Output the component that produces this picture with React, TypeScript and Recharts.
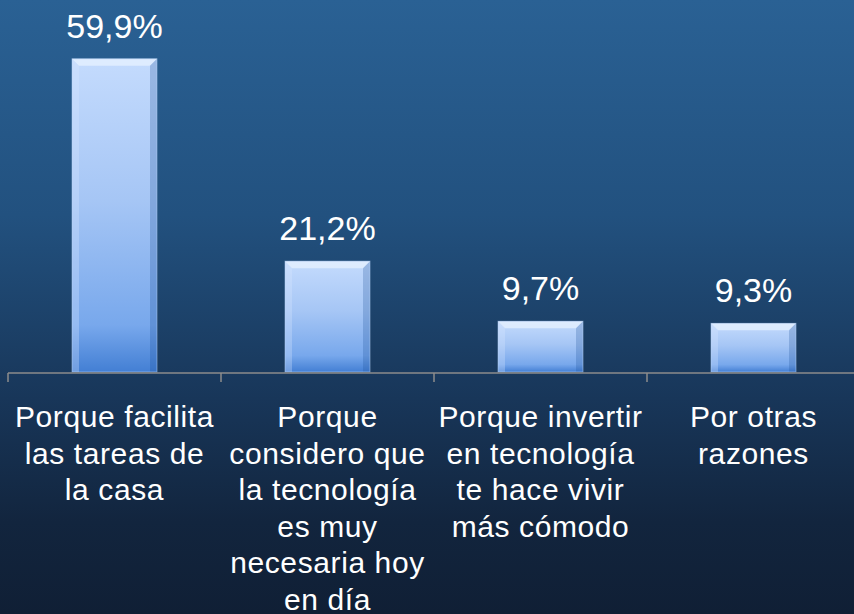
import React from "react";
import { BarChart, Bar, XAxis, YAxis, LabelList } from "recharts";

const categories = ["facilita", "considero", "invertir", "otras"];
const values = [59.9, 21.2, 9.7, 9.3];
const categoryLines = [
  ["Porque facilita", "las tareas de", "la casa"],
  ["Porque", "considero que", "la tecnología", "es muy", "necesaria hoy", "en día"],
  ["Porque invertir", "en tecnología", "te hace vivir", "más cómodo"],
  ["Por otras", "razones"],
];
// category boundaries on an index scale (categories sit at 0..3)
const boundaryTicks = [-0.5, 0.5, 1.5, 2.5, 3.5];

const data = categories.map((c, i) => ({ name: c, idx: i, value: values[i] }));

const FONT = '"Liberation Sans", Arial, sans-serif';

const CategoryTick = (props: any) => {
  const { x, y, index } = props;
  const lines = categoryLines[index] ?? [];
  return (
    <text
      x={x}
      y={y}
      textAnchor="middle"
      fill="#ffffff"
      fontSize={30}
      letterSpacing={0.6}
      fontFamily={FONT}
    >
      {lines.map((l, i) => (
        <tspan key={i} x={x} dy={i === 0 ? 55 : 36.6}>
          {l}
        </tspan>
      ))}
    </text>
  );
};

const EmptyTick = () => <g />;

const BevelBar = (props: any) => {
  const { x, y, width: w, height: h } = props;
  if (!h || h <= 0) return null;
  const b = Math.min(7, h / 4);
  return (
    <g>
      <rect x={x} y={y} width={w} height={h} fill="url(#barFill)" />
      <polygon
        points={`${x},${y} ${x + w},${y} ${x + w - b},${y + b} ${x + b},${y + b}`}
        fill="#eaf3ff"
        fillOpacity={0.7}
      />
      <polygon
        points={`${x},${y} ${x + b},${y + b} ${x + b},${y + h} ${x},${y + h}`}
        fill="#dbe9ff"
        fillOpacity={0.3}
      />
      <polygon
        points={`${x + w},${y} ${x + w - b},${y + b} ${x + w - b},${y + h} ${x + w},${y + h}`}
        fill="#1d4f99"
        fillOpacity={0.25}
      />
      <rect x={x} y={y} width={w} height={h} fill="none" stroke="#b9d3f7" strokeOpacity={0.5} strokeWidth={1} />
    </g>
  );
};

export default function App() {
  return (
    <div
      style={{
        position: "absolute",
        left: 0,
        top: 0,
        width: 854,
        height: 614,
        overflow: "hidden",
        background: "linear-gradient(to bottom, #2a6194 0%, #22517f 35%, #183659 65%, #12253e 85%, #101f35 100%)",
        fontFamily: FONT,
      }}
    >
      <BarChart
        width={870}
        height={614}
        data={data}
        margin={{ top: 6, right: 10, left: 8, bottom: 0 }}
        barSize={85}
      >
        <defs>
          <linearGradient id="barFill" x1="0" y1="0" x2="0" y2="1">
            <stop offset="0%" stopColor="#c4dbfd" />
            <stop offset="45%" stopColor="#a6c6f5" />
            <stop offset="85%" stopColor="#78a8ec" />
            <stop offset="100%" stopColor="#437fd4" />
          </linearGradient>
        </defs>
        <YAxis hide domain={[0, 70]} />
        <XAxis
          dataKey="name"
          height={1}
          axisLine={false}
          tickLine={false}
          tickSize={0}
          tickMargin={0}
          interval={0}
          tick={<CategoryTick />}
        />
        <XAxis
          xAxisId="bounds"
          dataKey="idx"
          type="number"
          domain={[-0.5, 3.5]}
          allowDataOverflow
          ticks={boundaryTicks}
          interval={0}
          height={241}
          tick={<EmptyTick />}
          tickSize={9}
          axisLine={{ stroke: "#8c8c8c", strokeWidth: 1.5 }}
          tickLine={{ stroke: "#8c8c8c", strokeWidth: 1.5 }}
        />
        <Bar dataKey="value" isAnimationActive={false} shape={<BevelBar />}>
          <LabelList
            dataKey="value"
            position="top"
            offset={21}
            fill="#ffffff"
            fontSize={34}
            fontFamily={FONT}
            formatter={(v: any) => `${Number(v).toFixed(1).replace(".", ",")}%`}
          />
        </Bar>
      </BarChart>
    </div>
  );
}
